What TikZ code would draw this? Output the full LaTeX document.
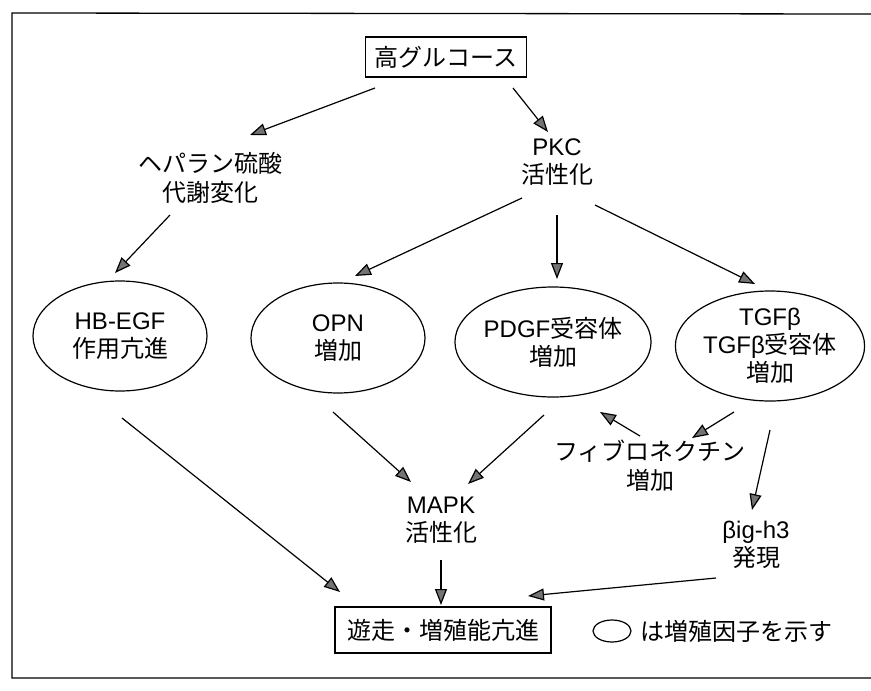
\documentclass[tikz,border=0pt]{standalone}
\usepackage{fontspec}
\setmainfont{Liberation Sans}
\newfontfamily\jp{Noto Sans CJK JP}
\usetikzlibrary{arrows.meta,shapes.geometric,calc}
\begin{document}
\begin{tikzpicture}[x=1pt,y=-1pt,
  every node/.style={font=\fontsize{24}{28}\selectfont, align=center, inner sep=0pt},
  jpt/.style={font=\jp\fontsize{24}{29}\selectfont},
  boxnode/.style={draw, line width=1.2pt, rectangle},
  ell/.style={draw, ellipse, line width=1.2pt, minimum width=174pt, minimum height=110pt},
  arr/.style={line width=1.2pt, -{Triangle[length=16pt,width=12pt,fill=black!55]}},
]
\useasboundingbox (0,0) rectangle (871,691);
\draw[line width=1.3pt] (871,14) -- (12,13) -- (12,678) -- (871,678);

\node[boxnode, jpt, minimum width=161pt, minimum height=40pt] (hg) at (446,57) {高グルコース};
\node[jpt] (hep) at (210,178) {ヘパラン硫酸\\代謝変化};
\node (pkc) at (557,162) {PKC\\{\jp 活性化}};
\node[ell] (hb) at (120,336) {HB-EGF\\{\jp 作用亢進}};
\node[ell] (opn) at (338,338) {OPN\\{\jp 増加}};
\node[ell] (pdgf) at (553,342) {PDGF{\jp 受容体}\\{\jp 増加}};
\node[ell] (tgf) at (770,346) {TGFβ\\TGFβ{\jp 受容体}\\{\jp 増加}};
\node[jpt] (fib) at (650,466) {フィブロネクチン\\増加};
\node (mapk) at (441,520) {MAPK\\{\jp 活性化}};
\node (big) at (756,545) {βig-h3\\{\jp 発現}};
\node[boxnode, jpt, minimum width=216pt, minimum height=46pt] (out) at (443,630) {遊走・増殖能亢進};
\node[draw, ellipse, line width=1.2pt, minimum width=38pt, minimum height=22pt] (leg) at (612,631) {};
\node[jpt, anchor=west] (legt) at (640,631) {は増殖因子を示す};

\draw[arr] ($(hg)+(-71,31)$) -- ($(hep)+(40,-43)$);
\draw[arr] ($(hg)+(67,31)$) -- ($(pkc)+(-9,-30)$);
\draw[arr] ($(hep)+(-40,37)$) -- ($(hb)+(-5,-63)$);
\draw[arr] ($(pkc)+(-35,36)$) -- ($(opn)+(17,-62)$);
\draw[arr] ($(pkc)+(0,53)$) -- ($(pdgf)+(4,-63)$);
\draw[arr] ($(pkc)+(38,43)$) -- ($(tgf)+(-15,-62)$);
\draw[arr] ($(hb)+(2,82)$) -- ($(out)+(-103,-38)$);
\draw[arr] ($(opn)+(-5,74)$) -- ($(mapk)+(-30,-38)$);
\draw[arr] ($(pdgf)+(-9,73)$) -- ($(mapk)+(27,-36)$);
\draw[arr] ($(tgf)+(-36,66)$) -- ($(fib)+(42,-28)$);
\draw[arr] ($(fib)+(-10,-30)$) -- ($(pdgf)+(47,70)$);
\draw[arr] ($(tgf)+(0,84)$) -- ($(big)+(-4,-35)$);
\draw[arr] ($(mapk)+(0,40)$) -- ($(out)+(-2,-25)$);
\draw[arr] ($(big)+(-40,33)$) -- ($(out)+(85,-34)$);
\end{tikzpicture}
\end{document}
